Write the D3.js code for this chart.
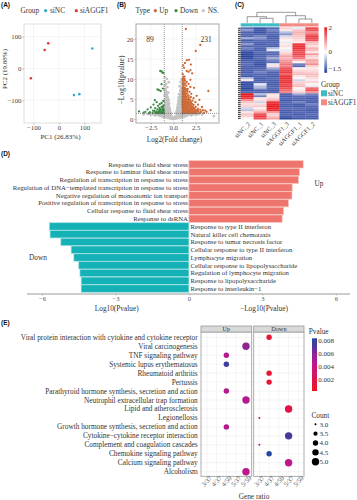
<!DOCTYPE html>
<html lang="en">
<head>
<meta charset="UTF-8">
<title>AGGF1 figure</title>
<script src="https://cdnjs.cloudflare.com/ajax/libs/d3/7.8.5/d3.min.js"></script>
<style>
  body { margin: 0; background: #fff; }
  text { font-family: "Liberation Serif", serif; fill: #333; }
  .tag { font-family: "Liberation Sans", sans-serif; font-weight: bold; font-size: 6.5px; fill: #111; }
</style>
</head>
<body>
<script>
// panel A
const pcaSiNC = [[131, 63], [59, -84], [80, -81]]
const pcaSiAGGF1 = [[-42, 79], [-56, 58], [-110, -31]]
const pcaTicks = [-100, 0, 100]

// panel B, [log2 fold change, -log10 p]
const volcanoUp = [[1.4,22.5],[3,18.5],[2.5,17],[1.75,14.8],[1.5,14.7],[1.3,14],[1.95,13.6],[1.1,13.4],[1.2,12.8],[1.9,12.2],[1.5,12],[1.7,11.8],[2.1,11.4],[1.05,11.2],[1.25,10.6],[1.1,10.2],[1.9,9.8],[1.05,9.8],[1.3,9.6],[1.5,9.3],[1.15,9.2],[1.05,8.8],[1.7,8.8],[1.25,8.6],[1.45,8.3],[1.1,8.2],[1.9,8],[1.05,7.8],[1.3,7.7],[2.3,7.8],[1.6,7.5],[1.15,7.3],[3.9,7],[1.05,7],[1.4,6.9],[1.8,6.8],[1.2,6.5],[1.55,6.4],[1.05,6.2],[2,6.3],[1.35,6],[1.7,5.9],[2.6,5.8],[1.1,5.7],[1.5,5.6],[1.95,5.5],[1.25,5.3],[2.25,5.2],[1.05,5.1],[1.65,5],[1.4,4.9],[1.85,4.8],[2.9,4.8],[1.15,4.6],[2.15,4.6],[1.55,4.4],[1.3,4.3],[1.75,4.2],[2.45,4.2],[1.05,4.1],[2,4],[1.45,3.9],[1.2,3.7],[1.65,3.7],[2.75,3.6],[1.9,3.5],[2.25,3.5],[1.05,3.4],[1.35,3.3],[1.55,3.2],[1.8,3.1],[2.1,3],[2.5,3],[3.2,3],[1.15,2.9],[1.4,2.8],[1.7,2.7],[2,2.7],[2.3,2.6],[2.75,2.5],[1.05,2.5],[1.25,2.4],[1.55,2.4],[1.85,2.3],[2.15,2.2],[2.55,2.2],[3,2.3],[3.3,2.2],[3.55,2.1],[4.15,2.2],[1.1,2.1],[1.4,2],[1.7,2],[2,1.9],[2.35,1.9],[2.8,1.9],[3.1,1.8],[3.7,1.8],[1.05,1.8],[1.25,1.7],[1.55,1.7],[1.85,1.6],[2.2,1.6],[2.5,1.6],[2.95,1.5],[3.4,1.5],[1.15,1.5],[1.4,1.5],[1.7,1.45],[2.05,1.45],[2.65,1.45],[1.05,1.45],[1.3,1.6],[1.6,2.9],[1.2,3.1],[1.05,3],[1.3,2.2],[1.5,3.6],[1.1,4.8],[1.3,5.6],[1.05,6.6],[1.2,7.9],[1.45,1.9],[1.75,2.4],[1.95,3.2],[1.35,4.6],[1.7,4.6],[2.4,2.4],
 [1.1,1.6],[1.2,1.9],[1.35,1.75],[1.5,2.2],[1.6,1.55],[1.65,2.2],[1.8,1.8],[1.95,2.1],[2.1,1.7],[2.25,1.9],[2.4,1.5],[2.6,1.9],[2.05,2.45],[2.25,2.9],[1.1,2.7],[1.2,2.6],[1.35,2.55],[1.45,2.35],[1.6,2.6],[1.9,2.85],[1.25,3.3],[1.45,3.15],[1.7,3.4],[1.1,3.6],[1.3,3.75],[1.6,4],[1.85,3.8],[2.1,3.7],[1.2,4.1],[1.4,4.2],[1.95,4.4],[1.1,4.4],[1.25,4.9],[1.5,4.9],[1.75,5.3],[1.15,5.2],[1.4,5.4],[1.6,5.7],[1.2,6],[1.45,6.3],[1.1,6.3],[1.3,6.6],[1.55,7],[1.15,6.9],[1.3,7.2],[1.1,7.6],[1.4,7.5],[1.2,8.6],[1.35,8.9],[1.1,9.4],[1.25,10],[1.15,10.6],[1.08,3.2],[1.08,2.3],[2.7,2.1],[2.2,2.5],[2.45,1.8],[1.5,1.6],[1.3,1.45],[1.9,1.45],[2.3,1.45],[1.15,2.3],[1.7,1.7],[1.02,5.6],[1.02,4.5],[1.02,3.7]]
const volcanoDown = [[-1.45,12],[-1.3,11.9],[-1.2,11.6],[-1.1,11.5],[-1.3,8.7],[-1.15,7.6],[-1.75,7.4],[-1.6,7.2],[-1.4,7],[-2.05,4.7],[-1.1,4.5],[-1.85,4.2],[-1.3,4],[-1.5,3.7],[-2.2,3.6],[-1.1,3.4],[-1.7,3.3],[-1.3,3],[-2.5,2.9],[-1.55,2.8],[-2,2.7],[-1.15,2.6],[-2.85,2.4],[-1.75,2.4],[-1.35,2.3],[-1.05,2.2],[-2.25,2.1],[-1.55,2],[-1.85,1.9],[-1.2,1.9],[-3.1,1.8],[-1.4,1.7],[-2.6,1.7],[-1.05,1.6],[-1.7,1.6],[-2,1.6],[-1.25,1.5],[-1.5,1.5],[-3.3,1.6],[-2.3,1.5],[-1.1,1.45],[-1.35,1.45],[-1.8,1.45],[-3.8,1.9],[-2.7,1.45],[-1.2,2.3],[-1.45,2.45],[-1.15,3],[-1.6,1.75],[-1.9,1.5],[-2.1,2],[-1.1,1.85],[-1.3,1.6],[-1.6,1.45],[-1.5,2.2]]
const volcanoNS = [[-.95,10.5],[-.7,10],[-.95,9.4],[-.5,9.2],[-.8,8.8],[-.95,8.4],[-.65,8],[-.85,7.6],[-.95,7.1],[-.75,6.8],[-.55,6.6],[-.9,6.3],[-.7,6],[-.95,5.8],[-.8,5.5],[-.6,5.3],[-.9,5],[-.72,4.8],[-.5,4.7],[-.95,4.5],[-.82,4.2],[-.62,4.1],[-.45,3.9],[-.92,3.8],[-.72,3.6],[-.55,3.4],[-.95,3.2],[-.82,3.1],[-.65,2.9],[-.47,2.8],[-.38,2.6],[-.92,2.6],[-.75,2.4],[-.58,2.3],[-.42,2.1],[-.95,2.1],[-.85,1.9],[-.68,1.8],[-.5,1.7],[-.35,1.6],[-.95,1.6],[-.78,1.5],[-.6,1.4],[-.42,1.35],[-.3,1.2],
 [-.88,7.2],[-.78,6.4],[-.85,5.8],[-.68,5.6],[-.75,5.1],[-.6,4.6],[-.85,4.7],[-.7,4.3],[-.55,4],[-.85,3.5],[-.63,3.5],[-.48,3.3],[-.75,3],[-.55,2.7],[-.85,2.8],[-.4,2.4],[-.65,2.1],[-.5,2.1],[-.75,1.9],[-.35,1.95],[-.55,1.5],[-.7,1.4],[-.85,1.3],[-.28,1.5],
 [.95,9.9],[.8,9.3],[.95,8.6],[.7,8.2],[.9,7.8],[.95,7.3],[.78,7],[.9,6.5],[.65,6.2],[.95,6],[.8,5.7],[.6,5.4],[.92,5.2],[.72,4.9],[.95,4.7],[.55,4.5],[.82,4.4],[.95,4],[.66,3.9],[.5,3.6],[.8,3.5],[.95,3.3],[.62,3.1],[.45,2.9],[.82,2.8],[.95,2.6],[.68,2.5],[.52,2.3],[.4,2.1],[.85,2.2],[.95,1.9],[.72,1.9],[.58,1.7],[.44,1.6],[.33,1.4],[.9,1.5],[.75,1.5],[.6,1.35],[.48,1.25],
 [.85,7.4],[.82,6.2],[.72,5.6],[.85,5.2],[.62,4.8],[.78,4.6],[.88,4.2],[.58,4],[.72,3.5],[.58,3.3],[.88,3],[.72,3],[.5,2.8],[.6,2.6],[.78,2.4],[.45,2.4],[.62,2.1],[.5,2],[.8,1.7],[.66,1.55],[.38,1.75],[.85,1.3],[.3,1.55],
 [-3.3,1.1],[-2.8,1.2],[-2.5,1],[-2.2,1.15],[-2,.85],[-1.8,1.2],[-1.65,.95],[-1.5,.75],[-1.35,1.15],[-1.25,.6],[-1.1,.95],[-1,.45],[-.9,.8],[-.85,1.2],[-.75,.4],[-.65,.75],[-.6,1.15],[-.55,.25],[-.45,.55],[-.4,.95],[-.35,.15],[-.25,.35],[-.2,.7],[-.15,.05],[-.05,.2],[0,.02],[-1.95,1.15],[-1.55,1.15],[-1.2,.9],[-1.4,.9],[-.8,.6],[-1,.75],[-.5,.8],[-.3,.55],[-.1,.35],
 [.05,.2],[.15,.05],[.2,.6],[.25,.3],[.35,.15],[.4,.85],[.45,.5],[.55,.25],[.6,1.1],[.65,.7],[.75,.38],[.85,1.15],[.9,.75],[1,.45],[1.1,.95],[1.25,.6],[1.35,1.15],[1.5,.75],[1.65,1],[1.8,1.2],[2,.85],[2.2,1.15],[2.5,1],[2.8,1.2],[3.2,1.1],[4.5,.7],[.1,.35],[.3,.55],[.5,.8],[.8,.6],[1,.75],[1.2,.9],[1.4,.9],[1.55,1.15],[1.95,1.15]]
const volcanoXTicks = [-2.5, 0, 2.5]
const volcanoYTicks = [0, 5, 10, 15, 20]

// panel C, columns in dendrogram order
const heatColumns = ['siNC_2', 'siNC_1', 'siNC_3', 'siAGGF1_3', 'siAGGF1_1', 'siAGGF1_2']
const heatValues = [
  [-.7,-1.2,-.8,.4,-.1,1.6],
  [-.5,-1.1,-.6,.2,.5,1.5],
  [-.9,-1.2,-.7,-.3,.7,1],
  [-.8,-.9,-.8,-.5,.6,1.3],
  [-.9,-.6,-1,-.2,.5,1.7],
  [-.4,-.5,-.9,.3,.4,1.6],
  [-1,-.7,-.8,.1,.3,1.5],
  [-.7,-.9,-.9,-.1,.2,.6],
  [-.5,-1,-.8,.2,1.7,.5],
  [-.9,-.8,-1,.3,1.8,.3],
  [-.6,-.9,-.3,.1,1.8,.7],
  [-.8,-1,-.1,-.1,1.6,.6],
  [-1.3,-.7,-.7,.3,1.5,.2],
  [-1.4,-1,-.8,.5,1.6,.9],
  [-1.4,-.9,-.6,.8,1.4,.4],
  [-1.3,-.7,-.4,.6,1.2,.3],
  [-1,-1,-.6,.9,.6,.8],
  [-.8,-1.1,-.7,1,.1,.7],
  [-.7,-1.2,-.1,1.2,-.6,1],
  [-.9,-1.1,.3,1.1,-.7,.4],
  [-1,-.9,-.4,1.5,.1,.2],
  [-.9,-.7,-.6,1.6,.3,.3],
  [-1,-.6,-.9,1.7,.5,.4],
  [-.8,-.8,-.9,1.4,.6,.6],
  [-1.1,-.8,-1,1.8,.2,.5],
  [-.3,-1,-.8,1.8,.1,.3],
  [.2,-.9,-.9,1.7,-.2,.2],
  [-1.2,-.8,-1,1.8,.4,.4],
  [-1.3,-.1,-1,1.6,.5,.1],
  [-1.2,-.3,-.9,1.7,.6,-.1],
  [-1.4,-.4,-.8,1.5,.1,1.3],
  [-1.2,-.9,-1,1.3,.2,1.5],
  [-.8,-.8,-.9,1.1,.4,.9],
  [2,-.3,.3,-.9,-.4,-.6],
  [1.9,-.6,.2,-1,-.7,-.8],
  [1.7,.2,.4,-.8,-.8,-1],
  [1,.3,.7,-1.1,-.9,-.9],
  [.5,-.2,1.8,-.8,-.6,-1],
  [.3,.3,1.9,-.9,-1,-.6],
  [.4,.5,2,-1,-1.1,-.8],
  [-.2,.1,1.9,-.7,-.7,-.9],
  [-.3,.4,1.8,-.9,-.9,-1.1],
  [.2,.8,.9,-1,-.8,-.9],
  [.5,1.5,.4,-.8,-1,-.7],
  [.4,1.7,.5,-1,-.8,-.9],
  [.1,1.5,.8,-1.4,-1.1,-1]
]
const groupNames = ['siNC', 'siAGGF1']
const heatLegendTicks = [2, 0, -1.5]
// [left, right, height] with leaves at their column index, node positions by merge order
const dendroMerges = [[1, 2, 18.3], [0, 6, 16.7], [4, 5, 19], [3, 8, 15.7], [7, 9, 12.3]]

// panel D
const upTerms = ['Response to fluid shear stress', 'Response to laminar fluid shear stress', 'Regulation of transcription in response to stress', 'Regulation of DNA\u2212templated transcription in response to stress', 'Negative regulation of monoatomic ion transport', 'Positive regulation of transcription in response to stress', 'Cellular response to fluid shear stress', 'Response to dsRNA']
const upPvalues = [4.67, 4.52, 4.48, 4.22, 4.21, 4.07, 3.87, 3.81]
const downTerms = ['Response to type II interferon', 'Natural killer cell chemotaxis', 'Response to tumor necrosis factor', 'Cellular response to type II interferon', 'Lymphocyte migration', 'Cellular response to lipopolysaccharide', 'Regulation of lymphocyte migration', 'Response to lipopolysaccharide', 'Response to interleukin\u22121']
const downPvalues = [5.7, 5.67, 5.23, 4.81, 4.7, 4.5, 4.45, 4.4, 4.4]
const goTicks = [-6, -3, 0, 3, 6]

// panel E
const pathways = ['Viral protein interaction with cytokine and cytokine receptor', 'Viral carcinogenesis', 'TNF signaling pathway', 'Systemic lupus erythematosus', 'Rheumatoid arthritis', 'Pertussis', 'Parathyroid hormone synthesis, secretion and action', 'Neutrophil extracellular trap formation', 'Lipid and atherosclerosis', 'Legionellosis', 'Growth hormone synthesis, secretion and action', 'Cytokine\u2212cytokine receptor interaction', 'Complement and coagulation cascades', 'Chemokine signaling pathway', 'Calcium signaling pathway', 'Alcoholism']
const pathwayFacet = ['Down', 'Up', 'Up', 'Up', 'Down', 'Down', 'Up', 'Up', 'Down', 'Down', 'Up', 'Down', 'Down', 'Down', 'Down', 'Up']
const pathwayRatio = ['4/37', '5/50', '4/50', '4/50', '4/37', '4/37', '4/50', '5/50', '5/37', '3/37', '4/50', '5/37', '3/37', '4/37', '5/37', '5/50']
const pathwayCount = [4, 5, 4, 4, 4, 4, 4, 5, 5, 3, 4, 5, 3, 4, 5, 5]
const pathwayP = [.0012, .0055, .0045, .0074, .0012, .0012, .0045, .0045, .0018, .0012, .0045, .0072, .0052, .008, .0042, .0042]
const ratioCats = ['3/37', '4/37', '4/50', '5/37', '5/50']
const facets = ['Up', 'Down']
const pLegendTicks = [.008, .006, .004, .002]
const countLegend = [3, 3.5, 4, 4.5, 5]

const colors = { nc: '#35a9cf', aggf: '#e8352c', up: '#cf6a36', down: '#3d8b45', ns: '#c4c4c4', teal: '#3fbcc3', salmon: '#f28b85', barUp: '#ee756d', barDown: '#14b1b7' }

const svg = d3.select('body').append('svg').attr('width', 357).attr('height', 500).attr('viewBox', '0 0 357 500').style('display', 'block')
const txt = (s, x, y, size, anchor = 'start', fill = '#333') => svg.append('text').attr('x', x).attr('y', y).attr('dy', '.34em').attr('font-size', size).attr('text-anchor', anchor).style('fill', fill).text(s)

;[['(A)', 1, 5], ['(B)', 117, 5], ['(C)', 235, 5], ['(D)', 1, 154], ['(E)', 1, 323]].forEach(d => {
  svg.append('text').attr('class', 'tag').attr('x', d[1]).attr('y', d[2]).attr('dy', '.34em').text(d[0])
})

// x/y axes with a faint grid and a box round the panel
function panelAxes(xScale, yScale, xTicks, yTicks, border, borderWidth, fmt) {
  const [x0, x1] = xScale.range(), [y1, y0] = yScale.range()
  const g = svg.append('g')
  g.selectAll('.gx').data(xTicks).join('line').attr('x1', d => xScale(d)).attr('x2', d => xScale(d)).attr('y1', y0).attr('y2', y1).attr('stroke', '#ececec').attr('stroke-width', .6)
  g.selectAll('.gy').data(yTicks).join('line').attr('y1', d => yScale(d)).attr('y2', d => yScale(d)).attr('x1', x0).attr('x2', x1).attr('stroke', '#ececec').attr('stroke-width', .6)
  const xa = svg.append('g').attr('transform', `translate(0,${y1})`).call(d3.axisBottom(xScale).tickValues(xTicks).tickSize(1.5).tickPadding(1).tickFormat(fmt))
  const ya = svg.append('g').attr('transform', `translate(${x0},0)`).call(d3.axisLeft(yScale).tickValues(yTicks).tickSize(1.5).tickPadding(1).tickFormat(d3.format('d')))
  ;[xa, ya].forEach(a => {
    a.selectAll('.domain').remove()
    a.selectAll('line').attr('stroke', '#777').attr('stroke-width', .5)
    a.selectAll('text').attr('font-size', 6.8).attr('font-family', '"Liberation Serif", serif').style('fill', '#444')
  })
  return () => svg.append('rect').attr('x', x0).attr('y', y0).attr('width', x1 - x0).attr('height', y1 - y0).attr('fill', 'none').attr('stroke', border).attr('stroke-width', borderWidth)
}

// --- A
const xA = d3.scaleLinear().domain([-137, 165]).range([24, 101])
const yA = d3.scaleLinear().domain([-172, 140]).range([123, 24])
const boxA = panelAxes(xA, yA, pcaTicks, pcaTicks, '#cfcfcf', .7, d3.format('d'))
svg.selectAll('.dotNC').data(pcaSiNC).join('circle').attr('cx', d => xA(d[0])).attr('cy', d => yA(d[1])).attr('r', 1.3).attr('fill', colors.nc)
svg.selectAll('.dotAG').data(pcaSiAGGF1).join('circle').attr('cx', d => xA(d[0])).attr('cy', d => yA(d[1])).attr('r', 1.3).attr('fill', colors.aggf)
boxA()
txt('Group', 20.5, 10.7, 7.3)
svg.append('circle').attr('cx', 45.7).attr('cy', 10.7).attr('r', 1.6).attr('fill', colors.nc)
txt('siNC', 50, 10.7, 7.3)
svg.append('circle').attr('cx', 76.3).attr('cy', 10.7).attr('r', 1.6).attr('fill', colors.aggf)
txt('siAGGF1', 80, 10.7, 7.3)
txt('PC1 (26.83%)', 60.5, 137, 7, 'middle')
txt('PC2 (19.88%)', 0, 0, 7, 'middle').attr('transform', 'translate(5,69) rotate(-90)')

// --- B
const xB = d3.scaleLinear().domain([-4.14, 5.08]).range([136, 219])
const yB = d3.scaleLinear().domain([-1, 23.75]).range([123, 24])
const boxB = panelAxes(xB, yB, volcanoXTicks, volcanoYTicks, '#a8a8a8', 1, d3.format('.1f'))
const dots = (data, color, r) => svg.append('g').selectAll('circle').data(data).join('circle').attr('cx', d => xB(d[0])).attr('cy', d => yB(d[1])).attr('r', r).attr('fill', color)
dots(volcanoNS, colors.ns, 1.35)
dots(volcanoUp, colors.up, 1.15)
dots(volcanoDown, colors.down, 1.15)
;[-1, 1].forEach(v => {
  svg.append('line').attr('x1', xB(v)).attr('x2', xB(v)).attr('y1', 24).attr('y2', 123).attr('stroke', '#666').attr('stroke-width', .7).attr('stroke-dasharray', '1,1')
})
svg.append('line').attr('x1', 136).attr('x2', 219).attr('y1', yB(1.4)).attr('y2', yB(1.4)).attr('stroke', '#666').attr('stroke-width', .7).attr('stroke-dasharray', '1,1')
boxB()
txt('89', 150, 39.3, 7.5, 'middle')
txt('231', 206, 39.3, 7.5, 'middle')
txt('Type', 135.5, 10.7, 7.3)
svg.append('circle').attr('cx', 155.3).attr('cy', 10.7).attr('r', 1.6).attr('fill', colors.up)
txt('Up', 159.3, 10.7, 7.3)
svg.append('circle').attr('cx', 176).attr('cy', 10.7).attr('r', 1.6).attr('fill', colors.down)
txt('Down', 180, 10.7, 7.3)
svg.append('circle').attr('cx', 203.3).attr('cy', 10.7).attr('r', 1.6).attr('fill', colors.ns)
txt('NS.', 207.7, 10.7, 7.3)
txt('Log2(Fold change)', 174.5, 140, 7.2, 'middle')
txt('\u2212Log10(pvalue)', 0, 0, 7.5, 'middle').attr('transform', 'translate(121.5,80) rotate(-90)')

// --- C
const xC = d3.scaleBand().domain(d3.range(heatColumns.length)).range([240.7, 318.3])
const yC = d3.scaleBand().domain(d3.range(heatValues.length)).range([27.3, 119.3])
const heatColor = d3.scaleLinear().domain([-1.5, -.7, 0, 2]).range(['#24429b', '#5a6bb6', '#ffffff', '#e81a20'])
heatValues.forEach((row, i) => {
  svg.append('g').selectAll('rect').data(row).join('rect')
    .attr('x', (d, j) => xC(j)).attr('y', yC(i)).attr('width', xC.bandwidth() + .2).attr('height', yC.bandwidth() + .2).attr('fill', d => heatColor(d))
  svg.append('line').attr('x1', 238).attr('x2', 240.7).attr('y1', yC(i) + 1).attr('y2', yC(i) + 1).attr('stroke', '#222').attr('stroke-width', 1)
})
svg.append('g').selectAll('rect').data(heatColumns).join('rect')
  .attr('x', (d, j) => xC(j)).attr('y', 23.3).attr('width', xC.bandwidth() + .2).attr('height', 3.2)
  .attr('fill', (d, j) => j < 3 ? colors.teal : colors.salmon)
heatColumns.forEach((c, j) => {
  const cx = xC(j) + xC.bandwidth() / 2
  txt(c, 0, 0, 6.3, 'end').attr('transform', `translate(${cx + 2},123) rotate(-45)`)
})
// dendrogram from merge list
const nodes = heatColumns.map((c, j) => ({ x: xC(j) + xC.bandwidth() / 2, h: 23 }))
dendroMerges.forEach(([a, b, h]) => {
  const l = nodes[a], r = nodes[b]
  svg.append('path').attr('d', `M${l.x},${l.h}V${h}H${r.x}V${r.h}`).attr('fill', 'none').attr('stroke', '#555').attr('stroke-width', .6)
  nodes.push({ x: (l.x + r.x) / 2, h })
})
// colour bar
const yLegC = d3.scaleLinear().domain([-1.5, 2]).range([68.5, 28])
const gradC = svg.append('defs').append('linearGradient').attr('id', 'gradC').attr('x1', 0).attr('x2', 0).attr('y1', 1).attr('y2', 0)
gradC.selectAll('stop').data([[0, '#24429b'], [.45, '#ffffff'], [1, '#e81a20']]).join('stop').attr('offset', d => d[0]).attr('stop-color', d => d[1])
svg.append('rect').attr('x', 324.3).attr('y', 27.3).attr('width', 2.8).attr('height', 45.5).attr('fill', 'url(#gradC)')
heatLegendTicks.forEach(t => txt(t === -1.5 ? '\u22121.5' : String(t), 328.5, yLegC(t), 7))
txt('Group', 321, 85, 7.3)
groupNames.forEach((g, i) => {
  svg.append('rect').attr('x', 321).attr('y', 90.3 + i * 9).attr('width', 6).attr('height', 6).attr('fill', i ? colors.salmon : colors.teal)
  txt(g, 328, 93.3 + i * 9, 7.3)
})

// --- D
const xD = d3.scaleLinear().domain([-6, 6]).range([42, 335.8])
const yD = d3.scaleBand().domain(d3.range(upTerms.length + downTerms.length)).range([160.3, 292.6]).padding(.04)
const barStroke = .7
svg.append('g').selectAll('rect').data(upPvalues).join('rect')
  .attr('x', xD(0)).attr('y', (d, i) => yD(i)).attr('width', d => xD(d) - xD(0)).attr('height', yD.bandwidth())
  .attr('fill', colors.barUp).attr('stroke', '#f9c9c5').attr('stroke-width', barStroke)
svg.append('g').selectAll('rect').data(downPvalues).join('rect')
  .attr('x', d => xD(-d)).attr('y', (d, i) => yD(i + upTerms.length)).attr('width', d => xD(0) - xD(-d)).attr('height', yD.bandwidth())
  .attr('fill', colors.barDown).attr('stroke', '#a5e0e2').attr('stroke-width', barStroke)
upTerms.forEach((t, i) => txt(t, 188, yD(i) + yD.bandwidth() / 2, 6.75, 'end'))
downTerms.forEach((t, i) => txt(t, 190.5, yD(i + upTerms.length) + yD.bandwidth() / 2, 6.75))
const axisD = svg.append('g').attr('transform', 'translate(0,294)').call(d3.axisBottom(xD).tickValues(goTicks).tickSize(1.5).tickPadding(1).tickFormat(d => d < 0 ? '\u2212' + (-d) : d))
axisD.select('.domain').attr('d', 'M27,0H350').attr('stroke', '#999').attr('stroke-width', 1)
axisD.selectAll('line').attr('stroke', '#888').attr('stroke-width', .5)
axisD.selectAll('text').attr('font-size', 6.5).attr('font-family', '"Liberation Serif", serif').style('fill', '#555')
txt('Log10(Pvalue)', 116.7, 308.5, 7.3, 'middle')
txt('\u2212Log10(Pvalue)', 264, 308.5, 7.3, 'middle')
txt('Up', 319, 184, 7.3, 'middle')
txt('Down', 38, 258, 7.3, 'middle')

// --- E
const yE = d3.scalePoint().domain(d3.range(pathways.length)).range([337.3, 471.7])
const facetX = { Up: [201, 251.7], Down: [253.7, 304] }
const pColor = d3.scaleLinear().domain([.0005, .004, .006, .008]).range(['#f0141e', '#c4158a', '#7a2a96', '#24479f'])
const rE = d3.scaleLinear().domain([3, 3.5, 4, 4.5, 5]).range([1, 2.1, 2.7, 3.2, 3.7])
pathways.forEach((p, i) => txt(p, 197.7, yE(i), 7.3, 'end'))
facets.forEach(f => {
  const [a, b] = facetX[f]
  const x = d3.scalePoint().domain(ratioCats).range([a, b]).padding(.58)
  const g = svg.append('g')
  g.selectAll('.gv').data(ratioCats).join('line').attr('x1', d => x(d)).attr('x2', d => x(d)).attr('y1', 332).attr('y2', 476.3).attr('stroke', '#ececec').attr('stroke-width', .6)
  svg.append('g').selectAll('line').data(pathways).join('line').attr('y1', (d, i) => yE(i)).attr('y2', (d, i) => yE(i)).attr('x1', a).attr('x2', b).attr('stroke', '#ececec').attr('stroke-width', .6)
  svg.append('g').selectAll('circle').data(d3.range(pathways.length).filter(i => pathwayFacet[i] === f)).join('circle')
    .attr('cx', i => x(pathwayRatio[i])).attr('cy', i => yE(i)).attr('r', i => rE(pathwayCount[i])).attr('fill', i => pColor(pathwayP[i]))
  svg.append('rect').attr('x', a).attr('y', 332).attr('width', b - a).attr('height', 144.3).attr('fill', 'none').attr('stroke', '#999').attr('stroke-width', .8)
  svg.append('rect').attr('x', a).attr('y', 326).attr('width', b - a).attr('height', 6).attr('fill', '#d9d9d9').attr('stroke', '#999').attr('stroke-width', .8)
  txt(f, (a + b) / 2, 329.2, 6.3, 'middle')
  const axis = svg.append('g').attr('transform', 'translate(0,476.3)').call(d3.axisBottom(x).tickSize(1.5).tickPadding(1))
  axis.select('.domain').remove()
  axis.selectAll('line').attr('stroke', '#777').attr('stroke-width', .5)
  axis.selectAll('text').attr('font-size', 6.5).attr('font-family', '"Liberation Serif", serif').style('fill', '#555')
    .attr('text-anchor', 'end').attr('dx', '.3em').attr('dy', '.45em').attr('transform', 'rotate(-45)')
})
txt('Gene ratio', 254, 496.7, 7.3, 'middle')
// p value legend
txt('Pvalue', 318.7, 331.7, 7.3, 'middle')
const yP = d3.scaleLinear().domain([.008, .002]).range([340.3, 380])
const gradE = svg.select('defs').append('linearGradient').attr('id', 'gradE').attr('x1', 0).attr('x2', 0).attr('y1', 1).attr('y2', 0)
gradE.selectAll('stop').data([[0, '#f0141e'], [.5, '#c4158a'], [.75, '#7a2a96'], [1, '#24479f']]).join('stop').attr('offset', d => d[0]).attr('stop-color', d => d[1])
svg.append('rect').attr('x', 312).attr('y', 338.3).attr('width', 5).attr('height', 52.7).attr('fill', 'url(#gradE)')
pLegendTicks.forEach(t => txt(d3.format('.3f')(t), 318.3, yP(t), 7))
// count legend
txt('Count', 320.3, 415.7, 7.3, 'middle')
const yCount = d3.scalePoint().domain(countLegend).range([424.3, 461.7])
svg.append('g').selectAll('circle').data(countLegend).join('circle').attr('cx', 315.5).attr('cy', d => yCount(d)).attr('r', d => rE(d)).attr('fill', '#000')
countLegend.forEach(c => txt(d3.format('.1f')(c), 319.5, yCount(c), 7))
</script>
</body>
</html>
